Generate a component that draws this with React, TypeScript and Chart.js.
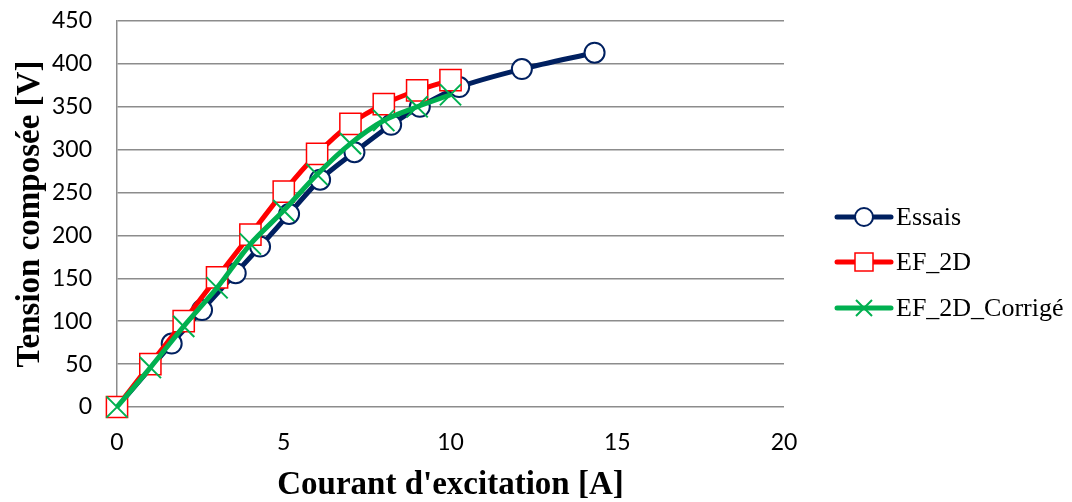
import React, { useEffect, useRef } from "react";
import { Chart, registerables } from "chart.js";

Chart.register(...registerables);

const essaisX = [0, 1.64, 2.55, 3.56, 4.29, 5.16, 6.09, 7.12, 8.22, 9.08, 10.26, 12.14, 14.32];
const essaisY = [0, 74, 113, 156, 187, 225, 265, 297, 329, 350, 373, 394, 413];
const efX = [0, 1, 2, 3, 4, 5, 6, 7, 8, 9, 10];
const efY = [0, 50, 100, 151, 201, 251, 295, 330, 353, 369, 381];
const corrX = [0, 1, 2, 3, 4, 5, 6, 7, 8, 9, 10];
const corrY = [0, 46, 94, 139, 190, 229, 271, 307, 334, 350, 364];

const seriesNames = ["Essais", "EF_2D", "EF_2D_Corrigé"];
const seriesColors = ["#002060", "#FF0000", "#00B050"];

const xTitle = "Courant d'excitation [A]";
const yTitle = "Tension composée [V]";

const toPts = (xs: number[], ys: number[]) => xs.map((x, i) => ({ x, y: ys[i] }));

const legendPlugin = {
  id: "customLegend",
  afterDraw(chart: any) {
    const ctx = chart.ctx as CanvasRenderingContext2D;
    const left = chart.chartArea.right + 53;
    const rows = [217, 262, 308];
    ctx.save();
    seriesNames.forEach((name, i) => {
      const y = rows[i];
      const color = seriesColors[i];
      ctx.strokeStyle = color;
      ctx.lineWidth = 5;
      ctx.lineCap = "round";
      ctx.beginPath();
      ctx.moveTo(left, y);
      ctx.lineTo(left + 54, y);
      ctx.stroke();
      const cx = left + 27;
      ctx.lineCap = "butt";
      if (i === 0) {
        ctx.beginPath();
        ctx.arc(cx, y, 9, 0, Math.PI * 2);
        ctx.fillStyle = "#fff";
        ctx.fill();
        ctx.lineWidth = 2;
        ctx.stroke();
      } else if (i === 1) {
        ctx.fillStyle = "#fff";
        ctx.fillRect(cx - 9, y - 9, 18, 18);
        ctx.lineWidth = 1.5;
        ctx.strokeRect(cx - 9, y - 9, 18, 18);
      } else {
        ctx.lineWidth = 2;
        ctx.beginPath();
        ctx.moveTo(cx - 8, y - 8);
        ctx.lineTo(cx + 8, y + 8);
        ctx.moveTo(cx + 8, y - 8);
        ctx.lineTo(cx - 8, y + 8);
        ctx.stroke();
      }
      ctx.fillStyle = "#000";
      ctx.font = "26px 'Liberation Serif'";
      ctx.textAlign = "left";
      ctx.textBaseline = "middle";
      ctx.fillText(name, left + 59, y + 1);
    });
    ctx.restore();
  },
};

export default function App() {
  const ref = useRef<HTMLCanvasElement | null>(null);
  useEffect(() => {
    document.body.style.margin = "0";
    if (!ref.current) return;
    const grid = "#8c8c8c";
    const chart = new Chart(ref.current, {
      type: "scatter",
      data: {
        datasets: [
          {
            label: seriesNames[0],
            data: toPts(essaisX, essaisY),
            showLine: true,
            clip: false,
            borderColor: seriesColors[0],
            borderWidth: 5,
            tension: 0.3,
            pointStyle: "circle",
            pointRadius: 10,
            pointBorderWidth: 2,
            pointBorderColor: seriesColors[0],
            pointBackgroundColor: "#ffffff",
            order: 3,
          },
          {
            label: seriesNames[1],
            data: toPts(efX, efY),
            showLine: true,
            clip: false,
            borderColor: seriesColors[1],
            borderWidth: 5,
            tension: 0.3,
            pointStyle: "rect",
            pointRadius: 15,
            pointBorderWidth: 1.5,
            pointBorderColor: seriesColors[1],
            pointBackgroundColor: "#ffffff",
            order: 2,
          },
          {
            label: seriesNames[2],
            data: toPts(corrX, corrY),
            showLine: true,
            clip: false,
            borderColor: seriesColors[2],
            borderWidth: 5,
            tension: 0.3,
            pointStyle: "crossRot",
            pointRadius: 15,
            pointBorderWidth: 2,
            pointBorderColor: seriesColors[2],
            pointBackgroundColor: seriesColors[2],
            order: 1,
          },
        ],
      },
      options: {
        animation: false,
        responsive: true,
        maintainAspectRatio: false,
        layout: { padding: { left: 11, right: 288, top: 0, bottom: 0 } },
        plugins: { legend: { display: false }, tooltip: { enabled: false } },
        scales: {
          x: {
            type: "linear",
            min: 0,
            max: 20,
            ticks: { stepSize: 5, color: "#000", padding: 22, font: { family: "Lato", size: 23 } },
            grid: { display: false, drawTicks: false },
            border: { display: false },
            title: {
              display: true,
              text: xTitle,
              color: "#000",
              font: { family: "'Liberation Serif'", size: 33, weight: "bold", lineHeight: 1 },
              padding: { top: 0, bottom: 0 },
            },
            afterFit: (scale: any) => {
              scale.height = 95;
            },
          },
          y: {
            type: "linear",
            min: 0,
            max: 450,
            ticks: { stepSize: 50, color: "#000", padding: 25, font: { family: "Lato", size: 23 } },
            grid: { color: grid, lineWidth: 1.5, drawTicks: false },
            border: { display: true, color: grid, width: 1.5 },
            title: {
              display: true,
              text: yTitle,
              color: "#000",
              font: { family: "'Liberation Serif'", size: 33, weight: "bold" },
              padding: { top: 0, bottom: 0 },
            },
            afterFit: (scale: any) => {
              scale.width = 106;
              scale.paddingTop = 21;
            },
          },
        },
      },
      plugins: [legendPlugin],
    });
    return () => chart.destroy();
  }, []);
  return (
    <div style={{ width: 1072, height: 502, position: "relative", background: "#fff" }}>
      <canvas ref={ref} />
    </div>
  );
}
